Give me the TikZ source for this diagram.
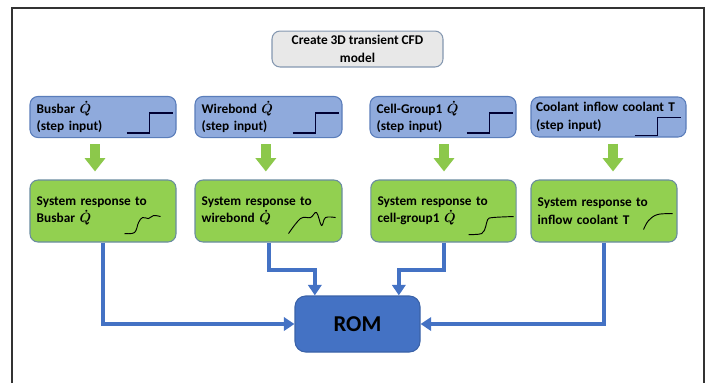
\documentclass[tikz,border=0pt]{standalone}
\usepackage{fontspec}
\setmainfont{Carlito}
\usetikzlibrary{arrows.meta,positioning}
\definecolor{inblue}{HTML}{8FAADC}
\definecolor{inedge}{HTML}{5A7DBA}
\definecolor{respgreen}{HTML}{92D050}
\definecolor{respedge}{HTML}{6A8CA0}
\definecolor{romblue}{HTML}{4472C4}
\definecolor{romedge}{HTML}{3A62A8}
\definecolor{cfdgray}{HTML}{E8E8E8}
\definecolor{cfdedge}{HTML}{8497B0}
\definecolor{flowgreen}{HTML}{8CC84B}

\begin{document}
\begin{tikzpicture}[
    x=0.75pt, y=-0.75pt,
    font=\fontsize{10}{13.2}\selectfont\bfseries\boldmath,
    box/.style={draw, line width=0.8pt, rounded corners=6pt, align=left, inner xsep=5pt, text width=#1},
    inbox/.style={box=#1, fill=inblue, draw=inedge, minimum height=30pt},
    respbox/.style={box=#1, fill=respgreen, draw=respedge, minimum height=46.5pt},
    feed/.style={line width=7.5pt, flowgreen, -{Triangle[length=10pt, width=15pt]}},
    link/.style={line width=3pt, romblue, -{Triangle[length=8pt, width=10pt]}},
    stepline/.style={line width=0.9pt, black!80!blue},
    curve/.style={line width=0.7pt, black}
]
\useasboundingbox (0,0) rectangle (707,383);
\draw[line width=0.8pt, black!80] (12,383) -- (12,8) -- (704,8) -- (704,383);

\node[draw=cfdedge, fill=cfdgray, line width=0.8pt, rounded corners=6pt, align=center,
      minimum width=128.25pt, minimum height=25.5pt] (cfd) at (357.5,49) {Create 3D transient CFD\\ model};

% step inputs
\node[inbox=99.5pt] (bbus) at (103,117) {Busbar $\dot{Q}$\\ (step input)};
\node[inbox=100.25pt] (bwire) at (268.5,117) {Wirebond $\dot{Q}$\\ (step input)};
\node[inbox=99.5pt] (bcell) at (443,117) {Cell-Group1 $\dot{Q}$\\ (step input)};
\node[inbox=108.75pt, inner xsep=3.75pt] (bcool) at (608.5,117) {Coolant inflow coolant T\\ (step input)};

% responses
\node[respbox=99.5pt] (rbus) at (103,211) {System response to\\ Busbar $\dot{Q}$};
\node[respbox=100.25pt] (rwire) at (268.5,211) {System response to\\ wirebond $\dot{Q}$};
\node[respbox=99pt] (rcell) at (443.5,211) {System response to\\ cell-group1 $\dot{Q}$};
\node[respbox=99.5pt] (rcool) at (604,211) {System response to\\ inflow coolant T};

\node[draw=romedge, fill=romblue, line width=0.8pt, rounded corners=8pt, minimum width=93.75pt,
      minimum height=42pt, font=\fontsize{17}{20}\selectfont\bfseries] (rom) at (357.5,324) {ROM};

\foreach \n in {bbus,bwire,bcell}
  \draw[stepline, shift={(\n.south east)}] (-50,-5) -- (-27,-5) -- (-27,-25) -- (-4,-25);
\draw[stepline, shift={(bcool.south east)}] (-52,-2) -- (-29,-2) -- (-29,-20) -- (-6,-20);

\draw[curve, shift={(rbus.south east)}] plot[smooth, tension=0.6] coordinates
  {(-52,-9) (-42,-10) (-38,-20) (-34,-25) (-28,-24) (-23,-27) (-16,-26)};
\draw[curve, shift={(rwire.south east)}] plot[smooth, tension=0.6] coordinates
  {(-54,-9) (-42,-24) (-32,-25) (-26,-30) (-21,-17) (-17,-25) (-7,-25)};
\draw[curve, shift={(rcell.south east)}] plot[smooth, tension=0.6] coordinates
  {(-48,-8) (-35,-9) (-31,-16) (-29,-23) (-24,-25) (-3,-26)};
\draw[curve, shift={(rcool.south east)}] plot[smooth, tension=0.6] coordinates
  {(-34,-13) (-29,-22) (-20,-28) (-5,-29)};

\foreach \a/\b/\dx in {bbus/rbus/-6pt, bwire/rwire/-2pt, bcell/rcell/0.75pt, bcool/rcool/3.4pt}
  \draw[feed, shorten <=4.5pt, shorten >=6pt] ([xshift=\dx]\a.south) -- ([xshift=\dx]\a.south |- \b.north);

\draw[link] (rbus.south) |- (rom);
\draw[link] (rwire.south) -- ++(0,27) -| ([xshift=-32pt]rom.north);
\draw[link] (rcell.south) -- ++(0,27) -| ([xshift=31pt]rom.north);
\draw[link] (rcool.south) |- (rom);
\end{tikzpicture}
\end{document}
